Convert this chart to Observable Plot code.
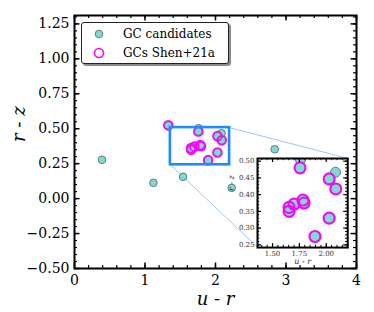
<!DOCTYPE html>
<html><head><meta charset="utf-8">
<script src="https://cdn.jsdelivr.net/npm/d3@7"></script>
<script src="https://cdn.jsdelivr.net/npm/@observablehq/plot@0.6"></script>
<style>
html,body{margin:0;padding:0;background:#fff;}
#chart{position:relative;width:374px;height:312px;overflow:hidden;background:#fff;}
#chart svg{position:absolute;left:0;top:0;background:transparent;}
#legend{position:absolute;box-sizing:border-box;background:#fff;border:1px solid #222;border-radius:3px;
  box-shadow:2px 2px 0 rgba(0,0,0,0.45);color:#000;}
#legend .row{position:absolute;left:0;height:16px;display:flex;align-items:center;white-space:nowrap;}
#legend .row span{font-family:'DejaVu Serif',serif;font-size:12px;}
#legend svg{position:static !important;}
</style></head><body><div id="chart"></div>
<script>
// ---------------- data ----------------
const seriesNames = ["GC candidates", "GCs Shen+21a"];
const candU = [0.39, 1.12, 1.54, 2.23, 2.84, 1.76, 2.086, 1.33, 1.756, 2.027, 2.089, 1.783, 1.793, 1.70, 1.654, 1.654, 2.027, 1.895];
const candR = [0.278, 0.113, 0.156, 0.077, 0.353, 0.504, 0.467, 0.524, 0.48, 0.447, 0.417, 0.384, 0.375, 0.372, 0.362, 0.35, 0.33, 0.275];
const shenU = [1.33, 1.756, 2.027, 2.089, 1.783, 1.793, 1.70, 1.654, 1.654, 2.027, 1.895];
const shenR = [0.524, 0.48, 0.447, 0.417, 0.384, 0.375, 0.372, 0.362, 0.35, 0.33, 0.275];
const mainXTicks = [0, 1, 2, 3, 4];
const mainYTicks = [-0.5, -0.25, 0, 0.25, 0.5, 0.75, 1.0, 1.25];
const insetXTicks = [1.5, 1.75, 2.0];
const insetYTicks = [0.25, 0.30, 0.35, 0.40, 0.45, 0.50];
const xLabel = "u - r", yLabel = "r - z";

// ---------------- layout / style ----------------
const W = 374, H = 312, mL = 74, mR = 18, mT = 15, mB = 44;
const iw = W - mL - mR, ih = H - mT - mB;
const xDom = [0, 4], yDom = [-0.5, 1.31];
const insetXDomain = [1.36, 2.2], insetYDomain = [0.242, 0.508];
const insetBox = [0.65, 0.083, 0.32, 0.352]; // axes fraction [x0, y0, w, h]
const teal = "#82d8d2", tealEdge = "#5b7f7c", mag = "#ff00ff", blue = "#1f8bff", conn = "#9ccbf8";
const cand = candU.map((u, i) => ({u, r: candR[i]}));
const shen = shenU.map((u, i) => ({u, r: shenR[i]}));

function range(a, b, s) { const out = []; const n = Math.round((b - a) / s); for (let i = 0; i <= n; i++) out.push(+(a + i * s).toFixed(4)); return out; }

function edgeTicks(xt, yt, len, innerW, innerH, sw) {
  return [
    Plot.ruleX(xt, {x: d => d, insetTop: innerH - len, stroke: "#000", strokeWidth: sw}),
    Plot.ruleX(xt, {x: d => d, insetBottom: innerH - len, stroke: "#000", strokeWidth: sw}),
    Plot.ruleY(yt, {y: d => d, insetRight: innerW - len, stroke: "#000", strokeWidth: sw}),
    Plot.ruleY(yt, {y: d => d, insetLeft: innerW - len, stroke: "#000", strokeWidth: sw})
  ];
}

const fx = (f) => xDom[0] + f * (xDom[1] - xDom[0]);
const fy = (f) => yDom[0] + f * (yDom[1] - yDom[0]);
const links = [
  {x1: insetXDomain[1], y1: insetYDomain[1], x2: fx(insetBox[0] + insetBox[2]), y2: fy(insetBox[1] + insetBox[3])},
  {x1: insetXDomain[0], y1: insetYDomain[0], x2: fx(insetBox[0]), y2: fy(insetBox[1])}
];

const main = Plot.plot({
  width: W, height: H, marginLeft: mL, marginRight: mR, marginTop: mT, marginBottom: mB,
  style: {fontFamily: "'DejaVu Serif', serif", fontSize: "14px", color: "#000", background: "transparent"},
  x: {domain: xDom, label: null},
  y: {domain: yDom, label: null},
  marks: [
    Plot.link(links, {x1: "x1", y1: "y1", x2: "x2", y2: "y2", stroke: conn, strokeWidth: 1}),
    Plot.dot(cand, {x: "u", y: "r", r: 3.8, fill: teal, stroke: tealEdge, strokeWidth: 1}),
    Plot.dot(shen, {x: "u", y: "r", r: 4.5, fill: "none", stroke: mag, strokeWidth: 1.6}),
    Plot.rect([{x1: insetXDomain[0], x2: insetXDomain[1], y1: insetYDomain[0], y2: insetYDomain[1]}],
      {x1: "x1", x2: "x2", y1: "y1", y2: "y2", fill: "none", stroke: blue, strokeWidth: 2.6}),
    ...edgeTicks(mainXTicks, mainYTicks, 5.5, iw, ih, 1.5),
    ...edgeTicks(range(0, 4, 0.2), range(-0.5, 1.3, 0.05), 3, iw, ih, 1.2),
    Plot.frame({stroke: "#000", strokeWidth: 2}),
    Plot.axisX({ticks: mainXTicks, tickSize: 0, tickPadding: 7, tickFormat: d => String(d), label: null}),
    Plot.axisY({ticks: mainYTicks, tickSize: 0, tickPadding: 5, tickFormat: d3.format(".2f"), label: null}),
    Plot.text([xLabel], {frameAnchor: "bottom", dy: 36, fontSize: 18, fontStyle: "italic", fontFamily: "'DejaVu Serif', serif"}),
    Plot.text([yLabel], {frameAnchor: "left", dx: -55, rotate: -90, fontSize: 18, fontStyle: "italic", fontFamily: "'DejaVu Serif', serif"})
  ]
});
const chart = document.getElementById("chart");
chart.appendChild(main);

// ---------------- inset ----------------
const sx = main.scale("x"), sy = main.scale("y");
const px0 = sx.apply(fx(insetBox[0])), px1 = sx.apply(fx(insetBox[0] + insetBox[2]));
const py1 = sy.apply(fy(insetBox[1] + insetBox[3])), py0 = sy.apply(fy(insetBox[1]));
const iL = 34, iR = 4, iT = 4, iB = 24;
const inW = px1 - px0, inH = py0 - py1;
const inset = Plot.plot({
  width: inW + iL + iR, height: inH + iT + iB,
  marginLeft: iL, marginRight: iR, marginTop: iT, marginBottom: iB,
  style: {fontFamily: "'DejaVu Serif', serif", fontSize: "7px", color: "#333", background: "transparent", overflow: "visible"},
  x: {domain: insetXDomain, label: null},
  y: {domain: insetYDomain, label: null},
  marks: [
    Plot.frame({fill: "#fff", stroke: "none"}),
    Plot.dot(cand, {x: "u", y: "r", r: 5, fill: teal, stroke: tealEdge, strokeWidth: 1, clip: true}),
    Plot.dot(shen, {x: "u", y: "r", r: 5.6, fill: "none", stroke: mag, strokeWidth: 1.9, clip: true}),
    ...edgeTicks(insetXTicks, insetYTicks, 4, inW, inH, 1.2),
    ...edgeTicks(range(1.4, 2.2, 0.05), range(0.25, 0.5, 0.01), 2.2, inW, inH, 1),
    Plot.frame({stroke: "#000", strokeWidth: 2}),
    Plot.axisX({ticks: insetXTicks, tickSize: 0, tickPadding: 3, tickFormat: d3.format(".2f"), label: null}),
    Plot.axisY({ticks: insetYTicks, tickSize: 0, tickPadding: 3, tickFormat: d3.format(".2f"), label: null}),
    Plot.text([xLabel], {frameAnchor: "bottom", dy: 16.5, fontSize: 8, fontStyle: "italic", fill: "#333"}),
    Plot.text([yLabel], {frameAnchor: "left", dx: -26, dy: -12, rotate: -90, fontSize: 8, fontStyle: "italic", fill: "#333"})
  ]
});
inset.style.left = (px0 - iL) + "px";
inset.style.top = (py1 - iT) + "px";
chart.appendChild(inset);

// ---------------- legend ----------------
const legend = document.createElement("div");
legend.id = "legend";
Object.assign(legend.style, {left: "81px", top: "22px", width: "148px", height: "42px"});
const styles = [
  `<circle cx="8" cy="8" r="3.8" fill="${teal}" stroke="${tealEdge}" stroke-width="1"/>`,
  `<circle cx="8" cy="8" r="4.5" fill="none" stroke="${mag}" stroke-width="1.6"/>`
];
seriesNames.forEach((name, i) => {
  const row = document.createElement("div");
  row.className = "row";
  row.style.top = (3 + i * 19) + "px";
  row.innerHTML = `<svg width="16" height="16" style="margin-left:9px;margin-right:16px">${styles[i]}</svg><span>${name}</span>`;
  legend.appendChild(row);
});
chart.appendChild(legend);
</script>
</body></html>
